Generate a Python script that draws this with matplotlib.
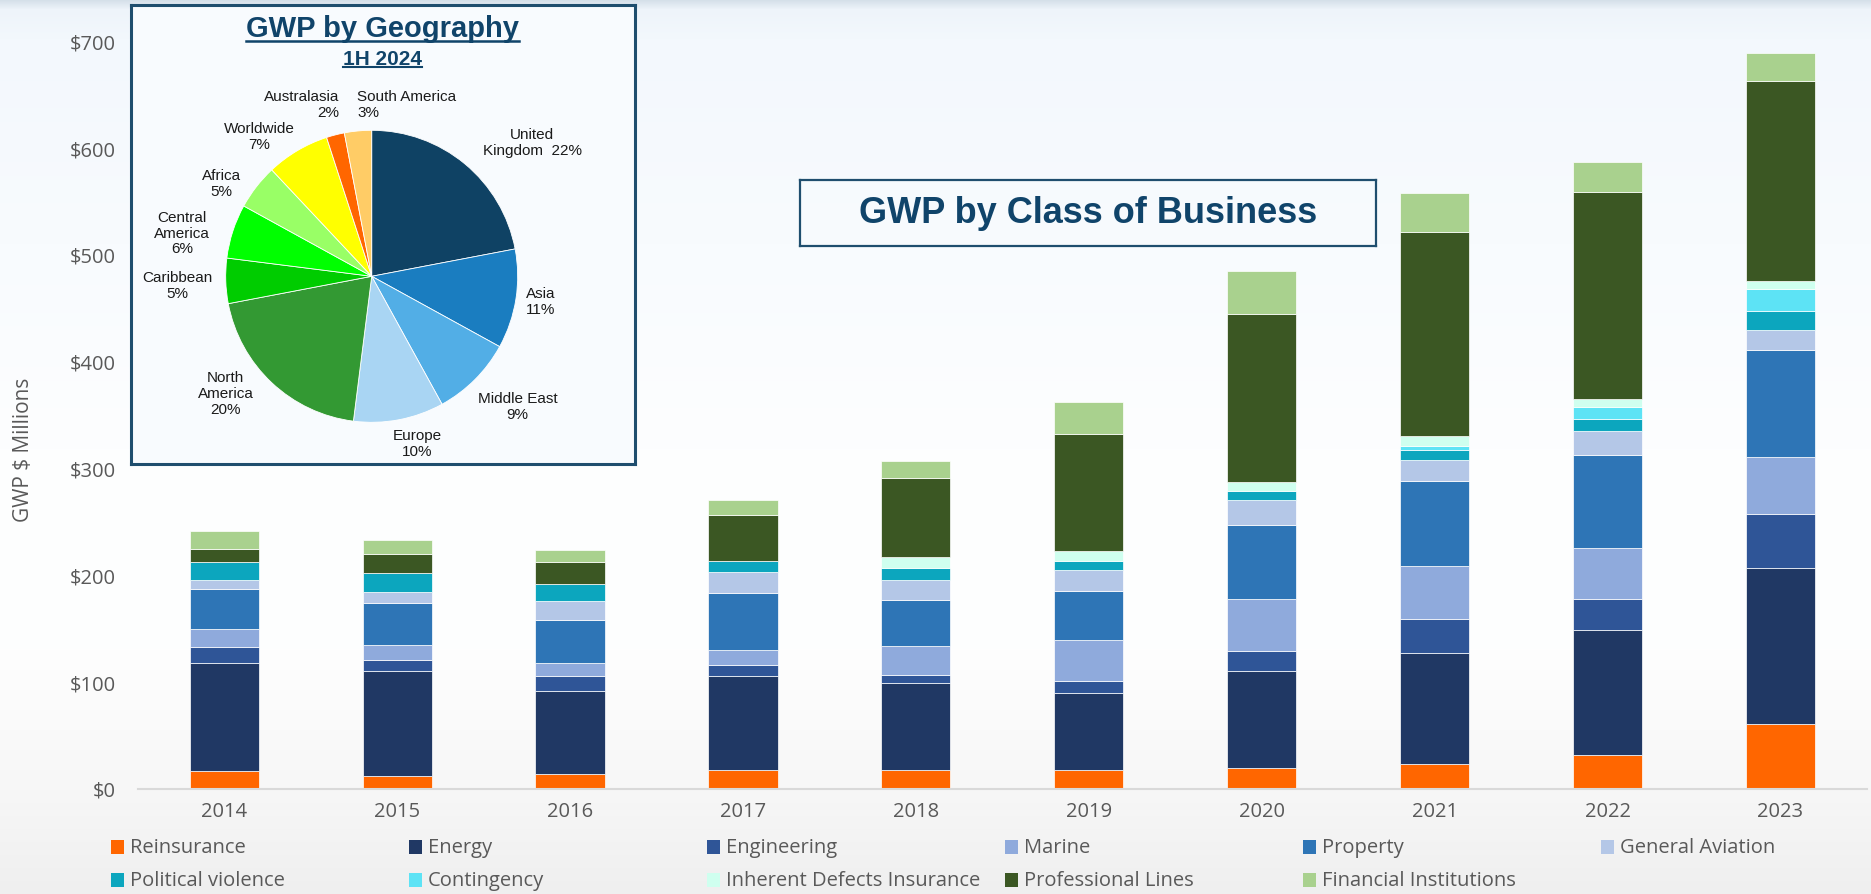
import numpy as np
import matplotlib
matplotlib.use('Agg')
import matplotlib.pyplot as plt
from matplotlib.patches import Rectangle
from matplotlib.lines import Line2D
from matplotlib.ticker import FuncFormatter

# ---- data: GWP by class of business ($ millions) ----
years = ['2014', '2015', '2016', '2017', '2018', '2019', '2020', '2021', '2022', '2023']
reinsurance = [16.3, 11.6, 13.4, 17.2, 17.2, 17.2, 18.8, 23.2, 31.3, 60.8]
energy = [101.0, 98.1, 77.5, 87.8, 81.8, 72.5, 91.5, 103.9, 117.4, 145.5]
engineering = [15.6, 10.9, 14.7, 11.0, 7.3, 11.3, 18.1, 31.7, 28.6, 50.6]
marine = [16.2, 13.4, 11.9, 14.0, 26.7, 38.4, 48.8, 49.6, 47.4, 53.9]
property_ = [37.9, 40.0, 40.5, 53.4, 43.6, 45.9, 69.7, 79.2, 87.9, 99.9]
general_aviation = [8.4, 10.4, 17.3, 19.6, 18.4, 19.7, 23.4, 20.1, 21.7, 18.9]
political_violence = [16.3, 17.2, 16.3, 9.8, 11.3, 7.8, 7.8, 9.5, 11.5, 17.9]
contingency = [0, 0, 0, 0, 0, 0, 0, 3.5, 11.5, 19.8]
inherent_defects = [0, 0, 0, 0, 10.3, 9.4, 9.0, 9.4, 7.8, 7.4]
professional_lines = [12.8, 18.4, 20.6, 43.2, 73.7, 110.0, 157.5, 190.5, 192.9, 187.8]
financial_institutions = [16.5, 13.0, 11.2, 14.0, 16.6, 29.4, 40.0, 36.6, 29.0, 26.2]

classes = ['Reinsurance', 'Energy', 'Engineering', 'Marine', 'Property', 'General Aviation',
           'Political violence', 'Contingency', 'Inherent Defects Insurance',
           'Professional Lines', 'Financial Institutions']
class_values = [reinsurance, energy, engineering, marine, property_, general_aviation,
                political_violence, contingency, inherent_defects, professional_lines,
                financial_institutions]
class_colors = ['#FF6600', '#203864', '#2F5597', '#8FAADC', '#2E75B6', '#B4C7E7',
                '#0CA6BE', '#5DE3F5', '#CFFFEF', '#3B5723', '#A9D18E']

# ---- data: GWP by geography 1H 2024 (%) ----
regions = ['United\nKingdom', 'Asia', 'Middle East', 'Europe', 'North\nAmerica', 'Caribbean',
           'Central\nAmerica', 'Africa', 'Worldwide', 'Australasia', 'South America']
region_share = [22, 11, 9, 10, 20, 5, 6, 5, 7, 2, 3]
region_colors = ['#0F4264', '#1A7DC0', '#52AEE6', '#A9D5F3', '#339933', '#00CC00',
                 '#00FF00', '#99FF66', '#FFFF00', '#FF6600', '#FFCC66']

# label layout for the pie (radius units from pie centre)
label_pos = [(1.10, 0.92), (1.16, -0.17), (1.00, -0.89), (0.31, -1.14), (-1.00, -0.80),
             (-1.33, -0.06), (-1.30, 0.30), (-1.03, 0.64), (-0.77, 0.96), (-0.48, 1.18),
             (0.24, 1.18)]
label_sep = ['  '] + ['\n'] * 10
label_align = ['center'] * 9 + ['right', 'left']

plt.rcParams['font.family'] = ['Open Sans', 'DejaVu Sans']

W, H = 1871, 895
def fx(px):
    return px / W
def fy(py):
    return 1 - py / H

fig = plt.figure(figsize=(W / 100, H / 100), dpi=100)

# background gradient
bg = fig.add_axes([0, 0, 1, 1], zorder=-10)
stop_y = [0, 10, 40, 450, 650, 790, 895]
stop_c = ['#D3DEE8', '#EEF4FA', '#F3F8FD', '#FDFEFF', '#FEFEFE', '#F7F7F7', '#EFEFEF']
stop_rgb = np.array([matplotlib.colors.to_rgb(c) for c in stop_c])
rows = np.arange(H)
grad = np.stack([np.interp(rows, stop_y, stop_rgb[:, i]) for i in range(3)], axis=-1)
bg.imshow(grad[:, None, :], aspect='auto', extent=[0, 1, 0, 1])
bg.axis('off')

# ---- stacked bars ----
ax = fig.add_axes([fx(137.7), fy(789.5), fx(1867) - fx(137.7), (789.5 - 41.8) / H])
ax.set_facecolor('none')
x = np.arange(len(years))
bottom = np.zeros(len(years))
for name, vals, col in zip(classes, class_values, class_colors):
    vals = np.array(vals, dtype=float)
    lw = [0.5 if v > 0 else 0 for v in vals]
    ax.bar(x, vals, 0.4, bottom=bottom, color=col, edgecolor='white', linewidth=lw, label=name)
    bottom += vals

ax.set_xlim(-0.5, 9.5)
ax.set_ylim(0, 700)
ax.set_xticks(x, years)
ax.set_yticks(np.arange(0, 701, 100))
ax.yaxis.set_major_formatter(FuncFormatter(lambda v, p: f'${v:.0f}'))
for s in ['top', 'right', 'left']:
    ax.spines[s].set_visible(False)
ax.spines['bottom'].set_color('#D9D9D9')
ax.spines['bottom'].set_linewidth(1.5)
ax.tick_params(axis='both', length=0, labelsize=14.5, colors='#595959')
ax.tick_params(axis='x', pad=9)
ax.tick_params(axis='y', pad=16)

fig.text(fx(24), fy(450), 'GWP $ Millions', rotation=90, ha='center', va='center',
         fontsize=15, color='#595959')

# title box
tb = fig.add_axes([fx(800), fy(247), fx(1376) - fx(800), (247 - 181) / H], zorder=2)
tb.set_facecolor('none')
tb.set_xticks([])
tb.set_yticks([])
for s in tb.spines.values():
    s.set_color('#1F4E6E')
    s.set_linewidth(1.6)
tb.text(0.5, 0.5, 'GWP by Class of Business', ha='center', va='center', fontsize=26,
        fontweight='bold', color='#10446A', family='Liberation Sans', transform=tb.transAxes)

# ---- pie inset ----
pb = fig.add_axes([fx(131), fy(465), fx(635) - fx(131), (465 - 6) / H], zorder=2)
pb.set_facecolor('#F8FBFE')
pb.set_xticks([])
pb.set_yticks([])
for s in pb.spines.values():
    s.set_color('#1F4E6E')
    s.set_linewidth(2.2)

cx, cy, r = 371.7, 277.3, 146
side = 3.2 * r
pa = fig.add_axes([fx(cx - side / 2), fy(cy + side / 2), side / W, side / H], zorder=3)
pa.pie(region_share, colors=region_colors, startangle=90, counterclock=False,
       wedgeprops=dict(edgecolor='white', linewidth=0.6))
pa.set_xlim(-1.6, 1.6)
pa.set_ylim(-1.6, 1.6)
for name, share, (dx, dy), sep, al in zip(regions, region_share, label_pos, label_sep, label_align):
    pa.text(dx, dy, f'{name}{sep}{share}%', ha='center', va='center', multialignment=al,
            fontsize=11, family='Liberation Sans', color='#1A1A1A', linespacing=1.15)

t1 = fig.text(fx(382.7), fy(37.3), 'GWP by Geography', ha='center', va='baseline', fontsize=21,
              fontweight='bold', color='#10446A', family='Liberation Sans', zorder=5)
t2 = fig.text(fx(382.7), fy(65), '1H 2024', ha='center', va='baseline', fontsize=15,
              fontweight='bold', color='#10446A', family='Liberation Sans', zorder=5)

# underline the titles
fig.canvas.draw()
rend = fig.canvas.get_renderer()
for t, yy, lw in [(t1, 41.7, 1.8), (t2, 68.3, 1.5)]:
    bb = t.get_window_extent(rend)
    fig.add_artist(Line2D([bb.x0 / W, bb.x1 / W], [fy(yy), fy(yy)], transform=fig.transFigure,
                          color='#10446A', linewidth=lw, zorder=5))

# legend, drawn as a grid like the original (row-major, 6 columns)
for i, (name, col) in enumerate(zip(classes, class_colors)):
    rr, cc = divmod(i, 6)
    x0 = 110.7 + 298 * cc
    yc = 848 + 33 * rr
    fig.add_artist(Rectangle((fx(x0), fy(yc + 7)), 13.3 / W, 14 / H, transform=fig.transFigure,
                             facecolor=col, edgecolor='none'))
    fig.text(fx(x0 + 19.3), fy(yc), name, ha='left', va='center', fontsize=14.5, color='#595959')

fig.savefig('out.png', dpi=100)
